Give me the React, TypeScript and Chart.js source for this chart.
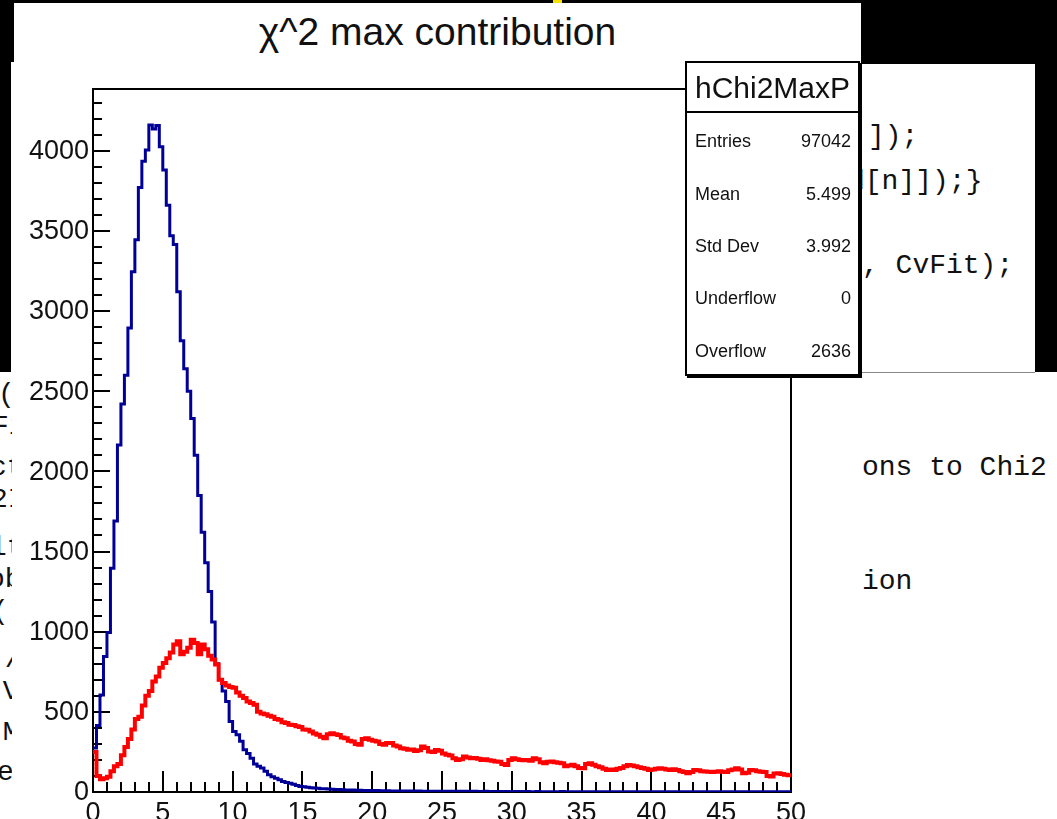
import React, { useEffect, useRef } from 'react';
import { Chart, registerables } from 'chart.js';

Chart.register(...registerables);

// ---- data ----
const X_MIN = 0;
const X_MAX = 50;
const Y_MAX = 4385;

// blue histogram (hChi2MaxP), 200 bins of 0.25
const blueCounts = [
  275, 415, 605, 845, 995, 1395, 1690, 2165, 2420, 2600,
  2895, 3245, 3445, 3770, 3935, 4005, 4160, 4135, 4158, 4025,
  3880, 3660, 3470, 3415, 3120, 2815, 2640, 2500, 2330, 2100,
  1850, 1620, 1430, 1250, 1060, 800, 700, 630, 565, 440,
  378, 357, 316, 264, 240, 211, 175, 160, 149, 130,
  107, 95, 86, 76, 66, 60, 55, 48, 40, 35,
  32, 30, 27, 25, 23, 21, 20, 18, 17, 16,
  15, 14, 13, 13, 12, 11, 11, 10, 10, 9,
  9, 9, 8, 8, 8, 7, 7, 7, 7, 6,
  6, 6, 6, 6, 5, 5, 5, 5, 5, 5,
  4, 4, 5, 4, 4, 4, 4, 3, 4, 4,
  3, 3, 4, 3, 3, 3, 3, 3, 3, 2,
  3, 3, 3, 2, 3, 2, 2, 3, 2, 2,
  2, 2, 2, 2, 3, 2, 2, 2, 2, 2,
  2, 2, 1, 2, 2, 2, 2, 1, 2, 2,
  1, 2, 1, 2, 1, 2, 1, 1, 2, 1,
  2, 1, 1, 1, 2, 1, 1, 1, 1, 1,
  1, 2, 1, 1, 1, 1, 1, 1, 1, 1,
  1, 1, 1, 1, 1, 1, 2, 1, 1, 1,
  1, 1, 1, 1, 1, 1, 1, 1, 1, 1,
];

// red histogram, 200 bins of 0.25
const redCounts = [
  250, 100, 80, 85, 95, 130, 160, 175, 230, 280,
  330, 390, 455, 470, 540, 600, 630, 690, 720, 775,
  805, 835, 870, 920, 940, 860, 875, 900, 950, 930,
  860, 920, 890, 850, 826, 795, 700, 680, 665, 655,
  650, 620, 600, 586, 565, 555, 544, 500, 490, 485,
  475, 470, 455, 450, 435, 430, 420, 418, 410, 405,
  390, 388, 378, 365, 357, 345, 336, 360, 367, 360,
  355, 340, 336, 320, 315, 300, 294, 330, 336, 326,
  320, 315, 300, 294, 305, 305, 290, 284, 273, 270,
  263, 265, 255, 260, 284, 275, 253, 250, 262, 258,
  240, 232, 228, 210, 200, 205, 221, 215, 211, 212,
  208, 200, 204, 198, 195, 190, 188, 175, 169, 200,
  211, 205, 200, 198, 200, 195, 211, 205, 185, 180,
  188, 190, 185, 182, 180, 160, 165, 170, 160, 150,
  148, 175, 180, 170, 160, 155, 145, 138, 140, 138,
  145, 150, 160, 169, 165, 160, 155, 150, 145, 138,
  140, 145, 148, 145, 140, 138, 142, 138, 130, 125,
  117, 125, 138, 135, 130, 128, 127, 124, 127, 130,
  127, 125, 135, 140, 148, 140, 117, 120, 138, 135,
  130, 127, 125, 100, 96, 115, 117, 112, 108, 105,
];

const X_MAJOR = 5;
const X_MINOR = 1;
const Y_MAJOR = 500;
const Y_MINOR = 100;
const Y_LABEL_MAX = 4000;

const titleText = 'χ^2 max contribution';
const statsTitle = 'hChi2MaxP';
const statsLabels = ['Entries', 'Mean', 'Std Dev', 'Underflow', 'Overflow'];
const statsValues = ['97042', '5.499', '3.992', '0', '2636'];

const SANS = '"Liberation Sans", Arial, sans-serif';

function toSteps(counts: number[]) {
  const w = (X_MAX - X_MIN) / counts.length;
  const pts = counts.map((c, i) => ({ x: X_MIN + i * w, y: c }));
  pts.push({ x: X_MAX, y: counts[counts.length - 1] });
  return pts;
}

const rootAxes = {
  id: 'rootAxes',
  beforeDatasetsDraw(chart: any) {
    const { ctx, chartArea: a, scales } = chart;
    const x = scales.x;
    const y = scales.y;
    ctx.save();
    ctx.strokeStyle = '#000';
    ctx.lineWidth = 2;
    ctx.beginPath();
    for (let v = 0; v <= Y_MAX; v += Y_MINOR) {
      const p = Math.round(y.getPixelForValue(v));
      const len = v % Y_MAJOR === 0 ? 17 : 9;
      ctx.moveTo(a.left, p);
      ctx.lineTo(a.left + len, p);
    }
    for (let v = X_MIN; v <= X_MAX; v += X_MINOR) {
      const p = Math.round(x.getPixelForValue(v));
      const len = v % X_MAJOR === 0 ? 21 : 10;
      ctx.moveTo(p, a.bottom);
      ctx.lineTo(p, a.bottom - len);
    }
    ctx.stroke();
    ctx.strokeRect(a.left, a.top, a.right - a.left, a.bottom - a.top);

    // y tick labels
    ctx.fillStyle = '#111';
    ctx.font = '27px ' + SANS;
    ctx.textAlign = 'right';
    ctx.textBaseline = 'middle';
    for (let v = 0; v <= Y_LABEL_MAX; v += Y_MAJOR) {
      ctx.fillText(String(v), a.left - 4, y.getPixelForValue(v) + 1);
    }
    ctx.restore();
  },
};

const abs = (l: number, t: number, w: number, h: number, extra: any = {}) => ({
  position: 'absolute' as const,
  left: l,
  top: t,
  width: w,
  height: h,
  ...extra,
});

const mono: any = {
  position: 'absolute',
  fontFamily: '"Liberation Mono", "DejaVu Sans Mono", monospace',
  fontSize: 28,
  lineHeight: '28px',
  whiteSpace: 'pre',
  color: '#111',
};

export default function App() {
  const ref = useRef<HTMLCanvasElement>(null);

  useEffect(() => {
    const canvas = ref.current;
    if (!canvas) return;
    const chart = new Chart(canvas, {
      type: 'line',
      data: {
        datasets: [
          {
            label: 'red',
            data: toSteps(redCounts),
            borderColor: '#ff0000',
            borderWidth: 4,
            stepped: true,
            pointRadius: 0,
            fill: false,
          },
          {
            label: 'blue',
            data: toSteps(blueCounts),
            borderColor: '#000099',
            borderWidth: 3,
            stepped: true,
            pointRadius: 0,
            fill: false,
          },
        ],
      },
      options: {
        animation: false,
        responsive: false,
        events: [],
        layout: { padding: { top: 89, right: 1057 - 791, left: 0, bottom: 0 } },
        plugins: {
          legend: { display: false },
          tooltip: { enabled: false },
          title: { display: false },
        },
        scales: {
          x: {
            type: 'linear',
            min: X_MIN,
            max: X_MAX,
            grid: { display: false, drawTicks: false },
            border: { display: false },
            ticks: {
              stepSize: X_MAJOR,
              autoSkip: false,
              maxRotation: 0,
              includeBounds: false,
              padding: 5,
              color: '#111',
              font: { family: SANS, size: 27 },
            },
            afterFit: (s: any) => {
              s.height = 27;
            },
          },
          y: {
            type: 'linear',
            min: 0,
            max: Y_MAX,
            grid: { display: false, drawTicks: false },
            border: { display: false },
            ticks: { display: false, stepSize: Y_MAJOR },
            afterFit: (s: any) => {
              s.width = 93;
            },
          },
        },
      } as any,
      plugins: [rootAxes],
    });
    return () => chart.destroy();
  }, []);

  const rowCenters = [78, 131, 183, 235, 288];

  return (
    <div style={abs(0, 0, 1057, 819, { position: 'fixed', background: '#000', overflow: 'hidden' })}>
      {/* tiny yellow fragment at top */}
      <div style={abs(553, 0, 9, 4, { background: '#f5e000' })} />
      {/* editor behind, lower part */}
      <div style={abs(0, 372, 1057, 447, { background: '#fff' })} />
      {/* editor window top-right */}
      <div style={abs(861, 64, 174, 308, { background: '#fff', borderBottom: '1px solid #888' })} />
      {/* title pad */}
      <div
        style={abs(14, 3, 847, 59, {
          background: '#fff',
          fontFamily: SANS,
          fontSize: 39,
          lineHeight: '57px',
          textAlign: 'center',
          color: '#111',
        })}
      >
        {titleText}
      </div>
      {/* ROOT pad */}
      <div style={abs(11, 62, 850, 757, { background: '#fff' })} />

      {/* editor code fragments */}
      <span style={{ ...mono, left: 868, top: 123 }}>]);</span>
      <span style={{ ...mono, left: 848, top: 168 }}>d[n]]);{'}'}</span>
      <span style={{ ...mono, left: 862, top: 252 }}>, CvFit);</span>
      <span style={{ ...mono, left: 862, top: 454 }}>ons to Chi2</span>
      <span style={{ ...mono, left: 862, top: 568 }}>ion</span>
      <div style={abs(0, 372, 12, 447, { overflow: 'hidden', background: '#fff' })}>
        <span style={{ ...mono, left: -2, top: 395 - 372 - 14 }}>(</span>
        <span style={{ ...mono, left: -8, top: 427 - 372 - 14 }}>Fi</span>
        <span style={{ ...mono, left: -10, top: 468 - 372 - 14 }}>ct</span>
        <span style={{ ...mono, left: -9, top: 500 - 372 - 14 }}>2I</span>
        <span style={{ ...mono, left: -10, top: 548 - 372 - 14 }}>lt</span>
        <span style={{ ...mono, left: -12, top: 580 - 372 - 14 }}>ob</span>
        <span style={{ ...mono, left: -8, top: 612 - 372 - 14 }}>((</span>
        <span style={{ ...mono, left: -12, top: 660 - 372 - 14 }}> /</span>
        <span style={{ ...mono, left: -14, top: 692 - 372 - 14 }}> V</span>
        <span style={{ ...mono, left: -14, top: 733 - 372 - 14 }}> M</span>
        <span style={{ ...mono, left: -3, top: 773 - 372 - 14 }}>e</span>
      </div>

      <canvas ref={ref} width={1057} height={819} style={abs(0, 0, 1057, 819, { display: 'block' })} />

      {/* stats box */}
      <div
        style={abs(685, 61, 175, 315, {
          background: '#fff',
          border: '2px solid #000',
          boxSizing: 'border-box',
          boxShadow: '2px 2px 0 #000',
          fontFamily: SANS,
          color: '#111',
        })}
      >
        <div
          style={{
            height: 50,
            borderBottom: '2px solid #000',
            boxSizing: 'border-box',
            fontSize: 30,
            lineHeight: '50px',
            textAlign: 'center',
          }}
        >
          {statsTitle}
        </div>
        {statsLabels.map((lab, i) => (
          <div
            key={lab}
            style={{
              position: 'absolute',
              left: 8,
              right: 7,
              top: rowCenters[i] - 12,
              height: 24,
              lineHeight: '24px',
              fontSize: 18,
              display: 'flex',
              justifyContent: 'space-between',
            }}
          >
            <span>{lab}</span>
            <span>{statsValues[i]}</span>
          </div>
        ))}
      </div>
    </div>
  );
}
